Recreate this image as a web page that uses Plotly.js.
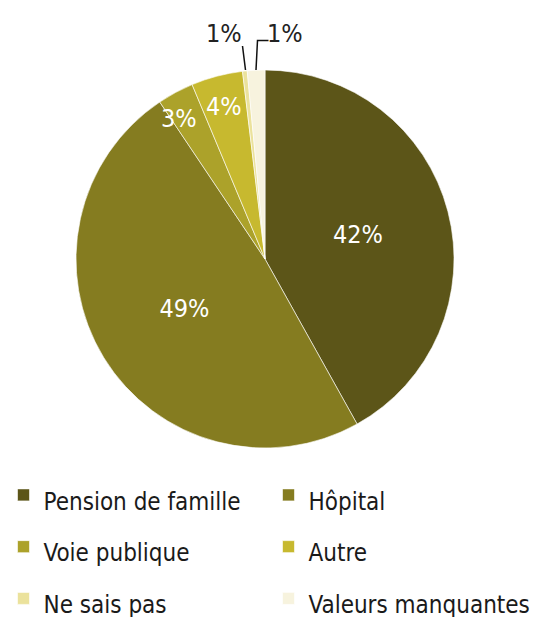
<!DOCTYPE html>
<html>
<head>
<meta charset="utf-8">
<script src="https://cdn.plot.ly/plotly-3.0.1.min.js"></script>
<style>
  html, body { margin: 0; padding: 0; background: #fff; }
  #chart { width: 537px; height: 617px; }
</style>
</head>
<body>
<div id="chart"></div>
<script>
// Data (share of respondents, %)
const categories = ["Pension de famille", "Hôpital", "Voie publique", "Autre", "Ne sais pas", "Valeurs manquantes"];
const shares = [41.9, 48.7, 3.1, 4.4, 0.4, 1.5];
const shareLabels = ["42%", "49%", "3%", "4%", "1%", "1%"];
const sliceColors = ["#5c5518", "#857c20", "#aca22a", "#c7b92f", "#ebe29c", "#f7f3de"];

const FONT = "Liberation Sans Narrow, DejaVu Sans Condensed, Arial Narrow, sans-serif";
const W = 537, H = 617;
const LABEL_SIZE = 25;
const LEGEND_SIZE = 24;

// pixel -> paper helpers (margins are zero)
const px = (x) => x / W;
const py = (y) => 1 - y / H;

// only the two big slices keep their label inside, the small ones get annotations
const insideText = shareLabels.map((t, i) => (i < 2 ? t : ""));

// legend rows are taller than the text in the original, so the legend font is
// big (for row height) and the visible text is set back with a span
const legendNames = categories.map(
	(c) => `<span style="font-size:${LEGEND_SIZE}px">${c}</span>`
);

const trace = {
	type: "pie",
	labels: legendNames,
	values: shares,
	text: insideText,
	textinfo: "text",
	textposition: "inside",
	insidetextorientation: "horizontal",
	sort: false,
	direction: "clockwise",
	rotation: 0,
	marker: { colors: sliceColors, line: { color: "#ffffff", width: 0.6 } },
	textfont: { family: FONT, size: LABEL_SIZE, color: "#ffffff" },
	hoverinfo: "percent",
	domain: { x: [px(265 - 189), px(265 + 189)], y: [py(448), py(70)] },
};

// small-slice labels
const smallLabels = [
	{ idx: 2, x: 179, y: 119, color: "#ffffff" },
	{ idx: 3, x: 224, y: 107, color: "#ffffff" },
	{ idx: 4, x: 224, y: 34, color: "#222222" },
	{ idx: 5, x: 285, y: 34, color: "#222222" },
];
const annotations = smallLabels.map((a) => ({
	xref: "paper",
	yref: "paper",
	x: px(a.x),
	y: py(a.y),
	text: shareLabels[a.idx],
	showarrow: false,
	xanchor: "center",
	yanchor: "middle",
	font: { family: FONT, size: LABEL_SIZE, color: a.color },
}));

// leader lines for the two tiny slices
const shapes = [
	{
		type: "path",
		xref: "paper",
		yref: "paper",
		path: `M${px(245.5)},${py(70)} L${px(242.5)},${py(46)}`,
		line: { color: "#111111", width: 1.5 },
	},
	{
		type: "path",
		xref: "paper",
		yref: "paper",
		path: `M${px(256)},${py(70)} L${px(257.5)},${py(40.5)} L${px(268.5)},${py(40.5)}`,
		line: { color: "#111111", width: 1.5 },
	},
];

const layout = {
	width: W,
	height: H,
	margin: { l: 0, r: 0, t: 0, b: 0, autoexpand: false },
	paper_bgcolor: "#ffffff",
	showlegend: true,
	legend: {
		orientation: "h",
		x: px(3.5),
		xanchor: "left",
		y: py(464),
		yanchor: "top",
		entrywidth: 220,
		entrywidthmode: "pixels",
		font: { family: FONT, size: 37.5, color: "#1a1a1a" },
		traceorder: "normal",
	},
	annotations: annotations,
	shapes: shapes,
};

Plotly.newPlot("chart", [trace], layout, { displayModeBar: false, staticPlot: true });
</script>
</body>
</html>
